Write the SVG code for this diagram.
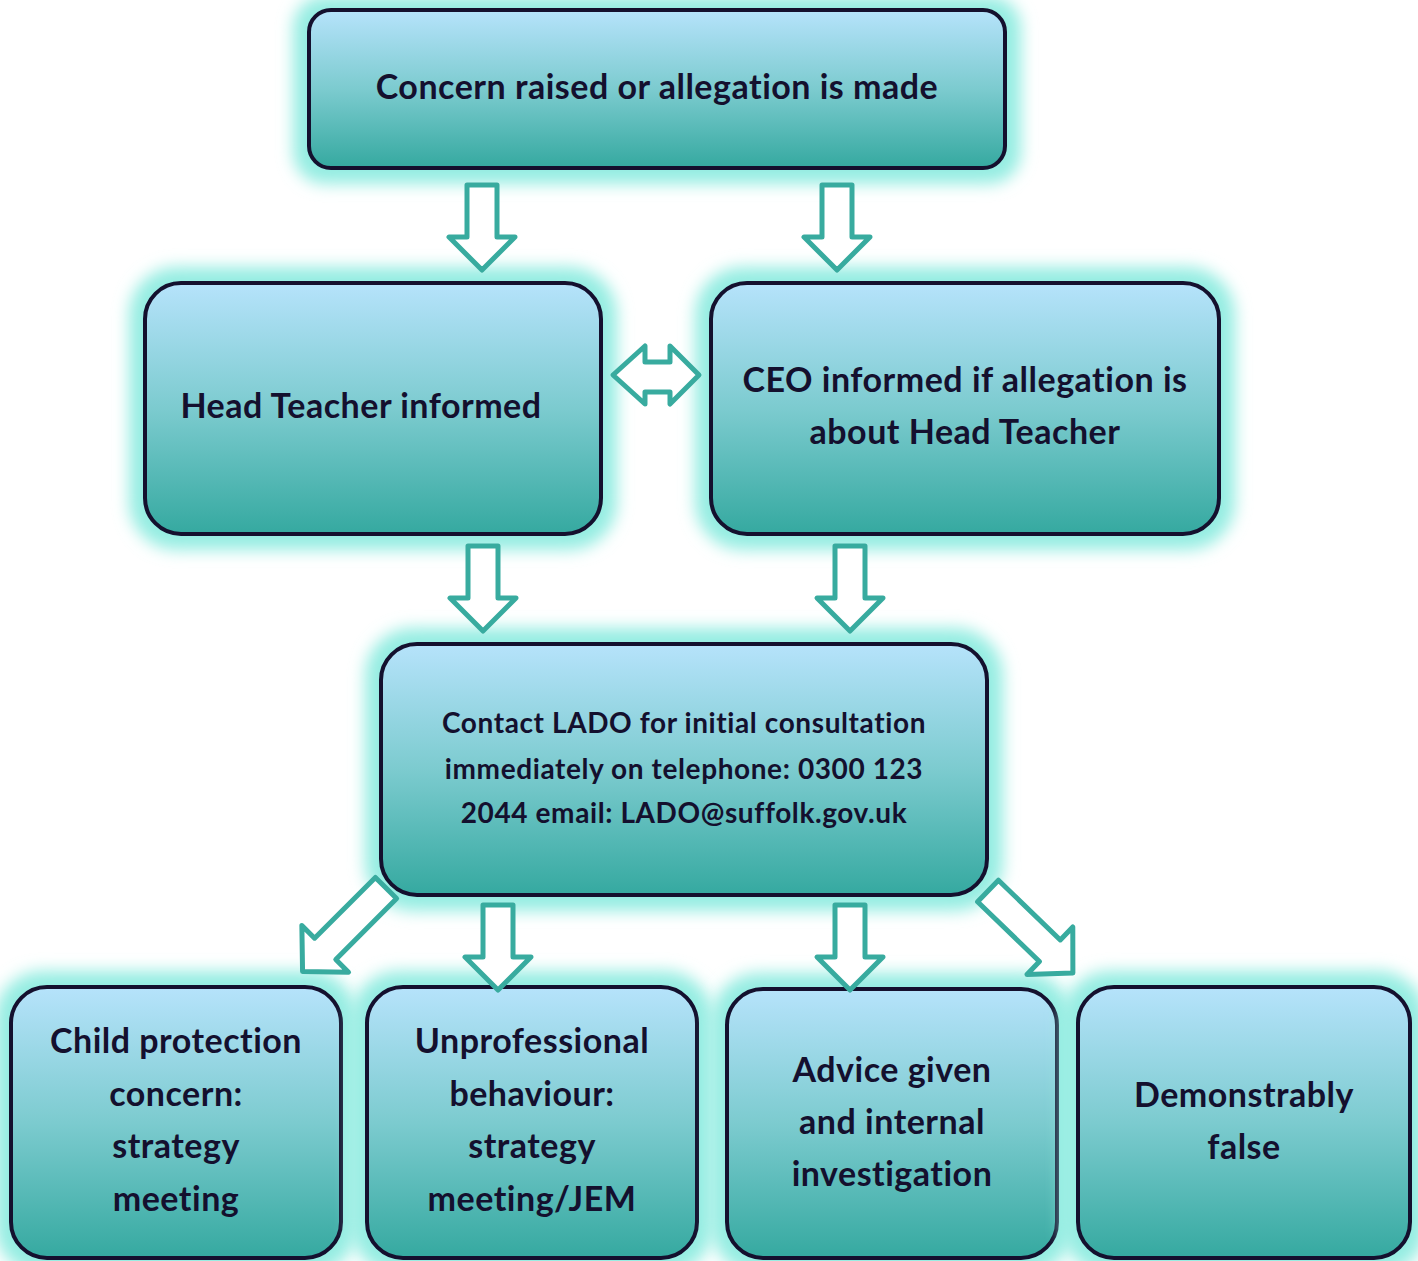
<svg xmlns="http://www.w3.org/2000/svg" width="1418" height="1261" viewBox="0 0 1418 1261">
<defs>
<linearGradient id="g" x1="0" y1="0" x2="0" y2="1">
<stop offset="0" stop-color="#b6e3fb"/>
<stop offset="0.5" stop-color="#7ccbcf"/>
<stop offset="1" stop-color="#35a9a0"/>
</linearGradient>
<filter id="glow" x="-20%" y="-30%" width="140%" height="160%">
<feGaussianBlur stdDeviation="8"/>
</filter>
<style>
.halo{fill:#95ede2;filter:url(#glow)}
.box{fill:url(#g);stroke:#14102e;stroke-width:4}
.t{font-family:Lato,"Noto Sans",sans-serif;font-weight:bold;fill:#14102e;text-anchor:middle}
.big{font-size:34px;letter-spacing:0.5px}
.mid{font-size:28px;letter-spacing:0.6px}
.arr{fill:#ffffff;stroke:#38ab9f;stroke-width:5;stroke-linejoin:round}
</style>
<polygon id="dn" points="-15,0 15,0 15,52 33,52 0,85 -33,52 -15,52"/>
<polygon id="dg" points="-15,0 15,0 15,86 33,86 0,118 -33,86 -15,86"/>
</defs>
<rect width="1418" height="1261" fill="#ffffff"/>

<g id="n1">
<rect class="halo" x="293" y="-4" width="728" height="188" rx="32"/>
<rect class="box" x="309" y="10" width="696" height="158" rx="22"/>
<text class="t big" x="657" y="99">Concern raised or allegation is made</text>
</g>
<g id="n2">
<rect class="halo" x="129" y="267" width="488" height="283" rx="48"/>
<rect class="box" x="145" y="283" width="456" height="251" rx="36"/>
<text class="t big" x="361" y="418">Head Teacher informed</text>
</g>
<g id="n3">
<rect class="halo" x="695" y="267" width="540" height="283" rx="48"/>
<rect class="box" x="711" y="283" width="508" height="251" rx="36"/>
<text class="t big" x="965" y="392">CEO informed if allegation is</text>
<text class="t big" x="965" y="444">about Head Teacher</text>
</g>
<g id="n4">
<rect class="halo" x="365" y="628" width="638" height="283" rx="48"/>
<rect class="box" x="381" y="644" width="606" height="251" rx="36"/>
<text class="t mid" x="684" y="733">Contact LADO for initial consultation</text>
<text class="t mid" x="684" y="779">immediately on telephone: 0300 123</text>
<text class="t mid" x="684" y="823">2044 email: LADO@suffolk.gov.uk</text>
</g>
<g id="n5">
<rect class="halo" x="-5" y="971" width="362" height="303" rx="48"/>
<rect class="box" x="11" y="987" width="330" height="271" rx="36"/>
<text class="t big" x="176" y="1053">Child protection</text>
<text class="t big" x="176" y="1106">concern:</text>
<text class="t big" x="176" y="1158">strategy</text>
<text class="t big" x="176" y="1211">meeting</text>
</g>
<g id="n6">
<rect class="halo" x="351" y="971" width="362" height="303" rx="48"/>
<rect class="box" x="367" y="987" width="330" height="271" rx="36"/>
<text class="t big" x="532" y="1053">Unprofessional</text>
<text class="t big" x="532" y="1106">behaviour:</text>
<text class="t big" x="532" y="1158">strategy</text>
<text class="t big" x="532" y="1211">meeting/JEM</text>
</g>
<g id="n7">
<rect class="halo" x="711" y="973" width="362" height="301" rx="48"/>
<rect class="box" x="727" y="989" width="330" height="269" rx="36"/>
<text class="t big" x="892" y="1082">Advice given</text>
<text class="t big" x="892" y="1134">and internal</text>
<text class="t big" x="892" y="1186">investigation</text>
</g>
<g id="n8">
<rect class="halo" x="1062" y="971" width="364" height="303" rx="48"/>
<rect class="box" x="1078" y="987" width="332" height="271" rx="36"/>
<text class="t big" x="1244" y="1107">Demonstrably</text>
<text class="t big" x="1244" y="1159">false</text>
</g>

<g id="connectors" class="arr">
<use href="#dn" x="482" y="185"/>
<use href="#dn" x="837" y="185"/>
<use href="#dn" x="483" y="546"/>
<use href="#dn" x="850" y="546"/>
<use href="#dn" x="498" y="905"/>
<use href="#dn" x="850" y="905"/>
<use href="#dg" transform="translate(386,888) rotate(45)"/>
<use href="#dg" transform="translate(988,891) rotate(-46)"/>
<polygon points="613,375 645,346 645,362 670,362 670,346 699,375 670,404 670,392 645,392 645,404"/>
</g>
</svg>
